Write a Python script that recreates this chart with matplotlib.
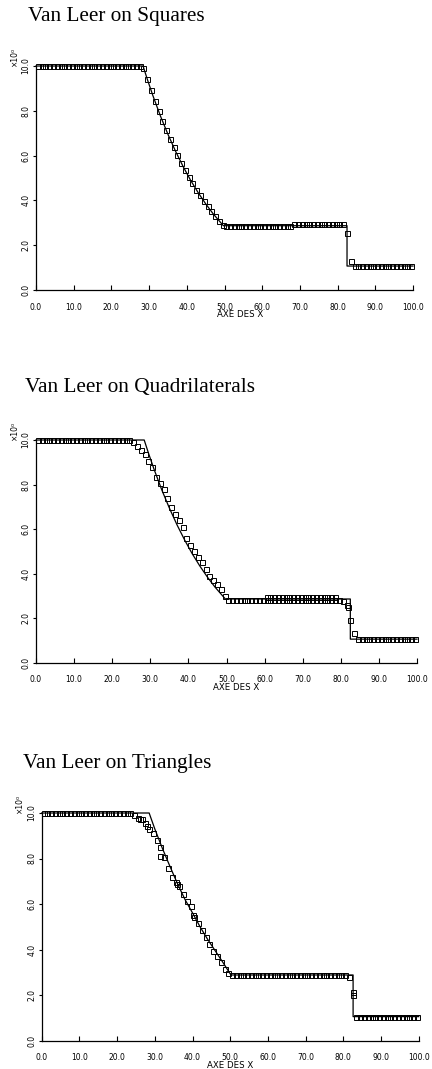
import numpy as np
import matplotlib
matplotlib.use("Agg")
import matplotlib.pyplot as plt

# ---------------- data ----------------
titles = ["Van Leer on Squares", "Van Leer on Quadrilaterals", "Van Leer on Triangles"]
x_ticks = [0, 10, 20, 30, 40, 50, 60, 70, 80, 90, 100]
x_tick_labels = ["0.0", "10.0", "20.0", "30.0", "40.0", "50.0", "60.0", "70.0", "80.0", "90.0", "100.0"]
y_ticks = [0, 2, 4, 6, 8, 10]
y_tick_labels = ["0.0", "2.0", "4.0", "6.0", "8.0", "10.0"]
x_label = "AXE DES X"
y_multiplier = "×10⁰"

# cell centres of the 1-D mesh
cells = np.arange(0.5, 100.0, 1.0)

squares_y = [10.0, 10.0, 10.0, 10.0, 10.0, 10.0, 10.0, 10.0, 10.0, 10.0,
             10.0, 10.0, 10.0, 10.0, 10.0, 10.0, 10.0, 10.0, 10.0, 10.0,
             10.0, 10.0, 10.0, 10.0, 10.0, 10.0, 10.0, 9.98, 9.9, 9.42,
             8.92, 8.45, 7.99, 7.56, 7.15, 6.75, 6.38, 6.02, 5.68, 5.36,
             5.05, 4.76, 4.48, 4.22, 3.97, 3.73, 3.51, 3.29, 3.09, 2.92,
             2.87, 2.87, 2.87, 2.87, 2.87, 2.87, 2.87, 2.87, 2.87, 2.87,
             2.87, 2.87, 2.87, 2.87, 2.87, 2.87, 2.87, 2.87, 2.96, 2.96,
             2.96, 2.96, 2.96, 2.96, 2.96, 2.96, 2.96, 2.96, 2.96, 2.96,
             2.96, 2.93, 2.55, 1.3, 1.07, 1.07, 1.07, 1.07, 1.07, 1.07,
             1.07, 1.07, 1.07, 1.07, 1.07, 1.07, 1.07, 1.07, 1.07, 1.07]

quads_y = [10.0, 10.0, 10.0, 10.0, 10.0, 10.0, 10.0, 10.0, 10.0, 10.0,
           10.0, 10.0, 10.0, 10.0, 10.0, 10.0, 10.0, 10.0, 10.0, 10.0,
           10.0, 10.0, 10.0, 10.0, 9.98, 9.9, 9.73, 9.55, 9.37, 9.05,
           8.78, 8.33, 8.05, 7.8, 7.42, 7.0, 6.7, 6.42, 6.08, 5.62,
           5.3, 5.02, 4.75, 4.52, 4.2, 3.9, 3.7, 3.55, 3.3, 3.02,
           2.82, 2.82, 2.82, 2.82, 2.82, 2.82, 2.82, 2.82, 2.82, 2.82,
           2.82, 2.82, 2.82, 2.82, 2.82, 2.82, 2.82, 2.82, 2.82, 2.82,
           2.82, 2.82, 2.82, 2.82, 2.82, 2.82, 2.82, 2.82, 2.82, 2.82,
           2.8, 2.58, 1.93, 1.33, 1.08, 1.08, 1.08, 1.08, 1.08, 1.08,
           1.08, 1.08, 1.08, 1.08, 1.08, 1.08, 1.08, 1.08, 1.08, 1.08]
quads_extra_x = [60.5, 61.5, 62.5, 63.5, 64.5, 65.5, 66.5, 67.5, 68.5, 69.5,
                 70.5, 71.5, 72.5, 73.5, 74.5, 75.5, 76.5, 77.5, 78.5, 82.0]
quads_extra_y = [2.95, 2.95, 2.95, 2.95, 2.95, 2.95, 2.95, 2.95, 2.95, 2.95,
                 2.95, 2.95, 2.95, 2.95, 2.95, 2.95, 2.95, 2.95, 2.95, 2.5]

tri_y = [10.0, 10.0, 10.0, 10.0, 10.0, 10.0, 10.0, 10.0, 10.0, 10.0,
         10.0, 10.0, 10.0, 10.0, 10.0, 10.0, 10.0, 10.0, 10.0, 10.0,
         10.0, 10.0, 10.0, 10.0, 9.9, 9.8, 9.73, 9.55, 9.3, 9.1,
         8.82, 8.5, 8.05, 7.6, 7.2, 6.95, 6.8, 6.45, 6.15, 5.9,
         5.45, 5.15, 4.85, 4.55, 4.25, 3.95, 3.7, 3.45, 3.15, 2.95,
         2.88, 2.88, 2.88, 2.88, 2.88, 2.88, 2.88, 2.88, 2.88, 2.88,
         2.88, 2.88, 2.88, 2.88, 2.88, 2.88, 2.88, 2.88, 2.88, 2.88,
         2.88, 2.88, 2.88, 2.88, 2.88, 2.88, 2.88, 2.88, 2.88, 2.88,
         2.88, 2.78, 2.12, 1.05, 1.05, 1.05, 1.05, 1.05, 1.05, 1.05,
         1.05, 1.05, 1.05, 1.05, 1.05, 1.05, 1.05, 1.05, 1.05, 1.05]
tri_extra_x = [26.0, 28.0, 31.5, 36.0, 40.0, 82.5]
tri_extra_y = [9.75, 9.43, 8.1, 6.86, 5.5, 1.98]

# exact solution (solid line), squares and quadrilaterals
exact_x = [0.0, 28.4, 29.5, 31.0, 33.0, 35.0, 37.0, 39.0, 41.0, 43.0, 45.0, 47.0, 49.7, 82.5, 82.5, 100.0]
exact_y = [10.0, 10.0, 9.42, 8.68, 7.77, 6.95, 6.20, 5.52, 4.90, 4.35, 3.85, 3.40, 2.87, 2.87, 1.07, 1.07]
# exact solution as drawn on the triangles panel
tri_exact_x = [0.0, 28.5, 30.0, 32.0, 34.0, 36.0, 38.0, 40.2, 42.0, 44.0, 46.0, 48.0, 50.2, 82.6, 82.6, 100.0]
tri_exact_y = [10.0, 10.0, 9.3, 8.45, 7.66, 6.9, 6.2, 5.55, 5.0, 4.45, 3.95, 3.45, 2.88, 2.88, 1.05, 1.05]

panels = [
    (squares_y, [], [], exact_x, exact_y),
    (quads_y, quads_extra_x, quads_extra_y, exact_x, exact_y),
    (tri_y, tri_extra_x, tri_extra_y, tri_exact_x, tri_exact_y),
]

# ---------------- layout (pixels) ----------------
W, H, DPI = 432, 1069, 100
# (x_left, x_right, y_top, y_bottom), title (x, baseline), xlabel centre x
boxes = [(36, 413, 66, 290), (36, 417, 440, 663), (41.7, 418.7, 813, 1040.5)]
title_pos = [(28, 21), (25, 392), (23, 768)]
xlabel_cx = [240, 236, 230]

fig = plt.figure(figsize=(W / DPI, H / DPI), dpi=DPI)
fig.patch.set_facecolor("white")

def fx(px):
    return px / W

def fy(py):
    return 1 - py / H

tick_font = {"family": "DejaVu Sans", "size": 5.5}
mk = dict(ls="none", marker="s", ms=3.6, mfc="none", mec="black", mew=0.7,
          clip_on=False, zorder=4)

for k, (vals, ex, ey, lx, ly) in enumerate(panels):
    x0, x1, yt, yb = boxes[k]
    ax = fig.add_axes([fx(x0), fy(yb), fx(x1 - x0), (yb - yt) / H])
    ax.set_xlim(0, 100)
    ax.set_ylim(0, 10)
    for s in ("top", "right"):
        ax.spines[s].set_visible(False)
    for s in ("left", "bottom"):
        ax.spines[s].set_linewidth(0.9)
    ax.plot(lx, ly, color="black", lw=0.9, clip_on=False, zorder=3)
    ax.plot(cells, vals, **mk)
    if ex:
        ax.plot(ex, ey, **mk)
    ax.set_xticks(x_ticks)
    ax.set_xticklabels(x_tick_labels, fontdict=tick_font)
    ax.set_yticks(y_ticks)
    ax.set_yticklabels(y_tick_labels, fontdict=tick_font, rotation=90, va="center")
    ax.tick_params(axis="x", direction="in", length=3.5, width=0.8, pad=9)
    ax.tick_params(axis="y", direction="out", length=2.5, width=0.8, pad=1.5)

    tx, tb = title_pos[k]
    fig.text(fx(tx), fy(tb), titles[k], family="Liberation Serif", size=15.3,
             ha="left", va="baseline")
    fig.text(fx(xlabel_cx[k]), fy(yb + 25), x_label, family="DejaVu Sans",
             size=6.2, ha="center", va="center")
    fig.text(fx(x0 - 22), fy(yt - 10), y_multiplier, family="DejaVu Sans",
             size=5.5, rotation=90, ha="center", va="center")

fig.savefig("out.png", dpi=DPI, facecolor="white")
